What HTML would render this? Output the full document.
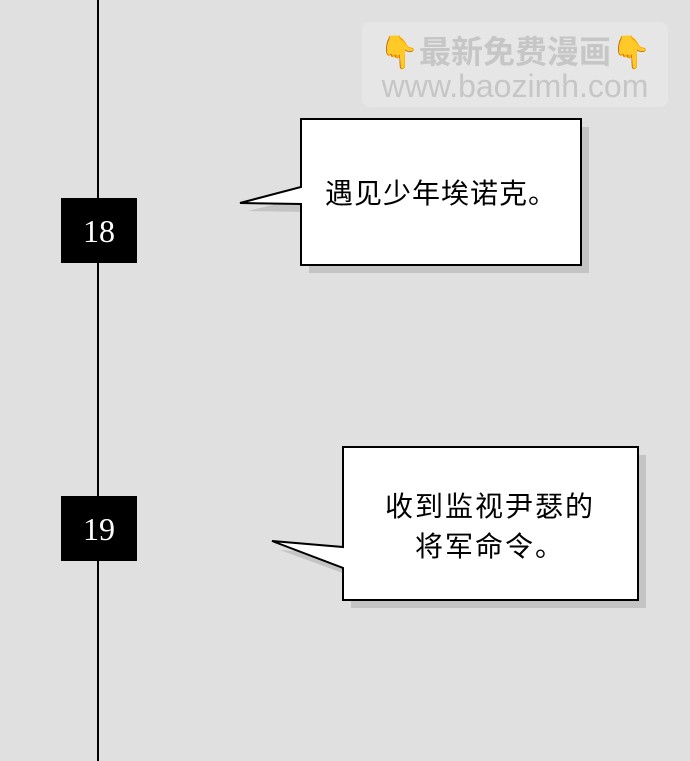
<!DOCTYPE html>
<html><head><meta charset="utf-8"><style>
html,body{margin:0;padding:0;background:#e0e0e0;width:690px;height:761px;overflow:hidden}
svg{display:block}
</style></head><body>
<svg width="690" height="761" xmlns="http://www.w3.org/2000/svg">
<rect width="690" height="761" fill="#e0e0e0"/>
<line x1="98" y1="0" x2="98" y2="761" stroke="#000" stroke-width="2"/>
<rect x="61" y="198" width="76" height="65" fill="#000"/>
<text x="99" y="242" fill="#fff" font-family="Liberation Serif, serif" font-size="32" text-anchor="middle">18</text>
<rect x="61" y="496" width="76" height="65" fill="#000"/>
<text x="99" y="540" fill="#fff" font-family="Liberation Serif, serif" font-size="32" text-anchor="middle">19</text>
<rect x="362" y="22" width="306" height="85" rx="8" fill="#e6e6e6"/>
<text x="515" y="63" fill="#c6c6c6" font-family="Liberation Sans, Noto Sans CJK SC, sans-serif" font-size="32" font-weight="bold" text-anchor="middle"><tspan fill="#f2b84a">👇</tspan>最新免费漫画<tspan fill="#f2b84a">👇</tspan></text>
<text x="515" y="97" fill="#c6c6c6" font-family="Liberation Sans, sans-serif" font-size="32" text-anchor="middle">www.baozimh.com</text>
<path d="M309 127 H589 V273 H309 Z" fill="#c4c4c4"/>
<path d="M248 211 L309 196 V212 Z" fill="#c4c4c4"/>
<path d="M301 119 H581 V265 H301 V204 L240 203 L301 187 Z" fill="#fff" stroke="#000" stroke-width="2"/>
<text x="441" y="203" font-family="Liberation Sans, Noto Sans CJK SC, sans-serif" font-size="28" letter-spacing="1" text-anchor="middle" fill="#000">遇见少年埃诺克。</text>
<path d="M351 455 H646 V608 H351 Z" fill="#c4c4c4"/>
<path d="M280 550 L351 555 V576 Z" fill="#c4c4c4"/>
<path d="M343 447 H638 V600 H343 V568 L272 541 L343 547 Z" fill="#fff" stroke="#000" stroke-width="2"/>
<text x="490" y="516" font-family="Liberation Sans, Noto Sans CJK SC, sans-serif" font-size="28" letter-spacing="2" text-anchor="middle" fill="#000">收到监视尹瑟的</text>
<text x="490" y="556" font-family="Liberation Sans, Noto Sans CJK SC, sans-serif" font-size="28" letter-spacing="2" text-anchor="middle" fill="#000">将军命令。</text>
</svg>
</body></html>
